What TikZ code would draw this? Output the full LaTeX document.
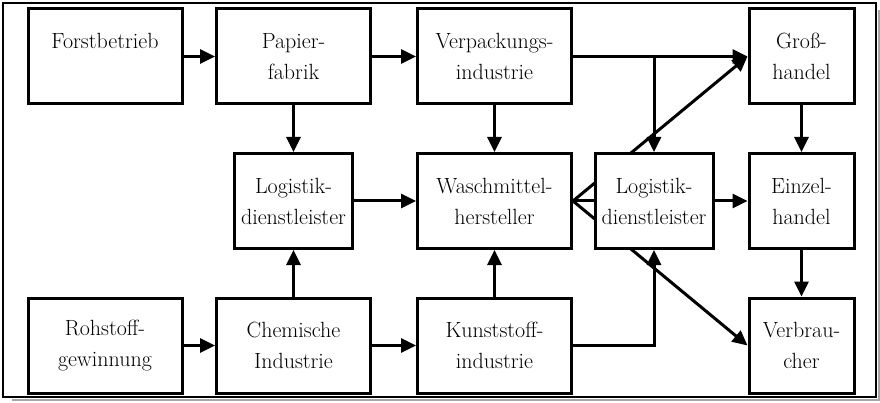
\documentclass[tikz,border=0pt]{standalone}
\usetikzlibrary{arrows.meta,backgrounds}
\begin{document}
\begin{tikzpicture}[x=1pt,y=-1pt,
  boxnode/.style={draw,line width=3pt,fill=white,rectangle,minimum height=95pt,
    inner sep=0pt,align=center,font=\fontsize{22}{31}\selectfont},
  widebox/.style={boxnode,minimum width=154pt},
  logbox/.style={boxnode,minimum width=118pt},
  narrowbox/.style={boxnode,minimum width=105pt},
  arr/.style={line width=3pt,-{Triangle[length=15pt,width=14pt]}},
  conn/.style={line width=3pt}]
\useasboundingbox (0,0) rectangle (880,403);
% frame with shadow
\draw[line width=2pt,gray!70] (12,400) -- (879,400) -- (879,10);
\draw[line width=2pt] (3,3) rectangle (876,397);
% row 1
\node[widebox] (forst) at (105,56.5) {Forstbetrieb\\[0pt]\phantom{x}};
\node[widebox] (papier) at (293.5,56.5) {Papier-\\fabrik};
\node[widebox] (verp) at (494.5,56.5) {Verpackungs-\\industrie};
\node[narrowbox] (gross) at (801.5,56.5) {Groß-\\handel};
% row 2
\node[logbox] (log1) at (293.5,201) {Logistik-\\dienstleister};
\node[widebox] (wasch) at (494.5,201) {Waschmittel-\\hersteller};
\node[logbox] (log2) at (654,201) {Logistik-\\dienstleister};
\node[narrowbox] (einzel) at (801.5,201) {Einzel-\\handel};
% row 3
\node[widebox] (roh) at (105,345.5) {Rohstoff-\\gewinnung};
\node[widebox] (chem) at (293.5,345.5) {Chemische\\Industrie};
\node[widebox] (kunst) at (494.5,345.5) {Kunststoff-\\industrie};
\node[narrowbox] (verbr) at (801.5,345.5) {Verbrau-\\cher};
% diagonals behind the right logistics box
\begin{scope}[on background layer]
\draw[arr] (wasch.east) -- (gross.west);
\draw[arr] (wasch.east) -- (verbr.west);
\end{scope}
% connectors
\draw[arr] (forst) -- (papier);
\draw[arr] (papier) -- (verp);
\draw[arr] (verp.east) -- (gross.west);
\draw[arr] (verp.east -| log2.north) -- (log2.north);
\draw[arr] (papier) -- (log1);
\draw[arr] (chem) -- (log1);
\draw[arr] (log1) -- (wasch);
\draw[arr] (verp) -- (wasch);
\draw[arr] (kunst) -- (wasch);
\draw[arr] (roh) -- (chem);
\draw[arr] (chem) -- (kunst);
\draw[arr] (kunst.east) -| (log2.south);
\draw[conn] (wasch.east) -- (log2.west);
\draw[arr] (log2) -- (einzel);
\draw[arr] (gross) -- (einzel);
\draw[arr] (einzel) -- (verbr);
\end{tikzpicture}
\end{document}
